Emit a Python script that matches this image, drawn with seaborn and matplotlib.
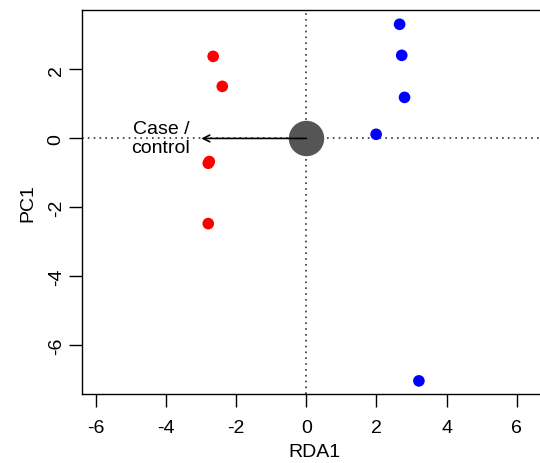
import seaborn as sns
import matplotlib.pyplot as plt
import pandas as pd

sns.set_theme(style='white')
plt.rcParams['font.family'] = ['Liberation Sans', 'DejaVu Sans']
plt.rcParams['text.color'] = 'black'
plt.rcParams['axes.labelcolor'] = 'black'
plt.rcParams['xtick.color'] = 'black'
plt.rcParams['ytick.color'] = 'black'
plt.rcParams['axes.unicode_minus'] = False

rda1_case = [-2.66, -2.40, -2.77, -2.80, -2.80]
pc1_case = [2.38, 1.51, -0.67, -0.72, -2.47]
rda1_ctrl = [2.66, 2.72, 2.80, 1.99, 3.21]
pc1_ctrl = [3.31, 2.41, 1.19, 0.12, -7.03]
arrow_end = -3.0
arrow_label = 'Case /\ncontrol'

df = pd.DataFrame({
    'RDA1': rda1_case + rda1_ctrl,
    'PC1': pc1_case + pc1_ctrl,
    'group': ['case'] * len(rda1_case) + ['control'] * len(rda1_ctrl),
})

fig = plt.figure(figsize=(5.4, 4.64), dpi=100)
ax = fig.add_axes([0.152, 0.148, 0.86, 0.828])

ax.axvline(0, color='#333333', ls=(0, (1, 2.5)), lw=1.2, zorder=1)
ax.axhline(0, color='#333333', ls=(0, (1, 2.5)), lw=1.2, zorder=1)

sns.scatterplot(data=df, x='RDA1', y='PC1', hue='group',
                palette={'case': '#ff0000', 'control': '#0000ff'},
                s=70, edgecolor='none', legend=False, ax=ax, zorder=3)
ax.scatter([0], [0], s=600, color='#555555', zorder=2)
ax.annotate('', xy=(arrow_end, 0), xytext=(0, 0),
            arrowprops=dict(arrowstyle='->', color='black', lw=1.2, shrinkA=0, shrinkB=0))
ax.text(arrow_end - 1.15, 0, arrow_label, ha='center', va='center',
        fontsize=14, linespacing=1.15)

ax.set_xlim(-6.4, 6.85)
ax.set_ylim(-7.42, 3.72)
ax.set_xticks([-6, -4, -2, 0, 2, 4, 6])
ax.set_yticks([2, 0, -2, -4, -6])
ax.set_yticklabels(['2', '0', '-2', '-4', '-6'], rotation=90, va='center')
ax.set_xlabel('RDA1', fontsize=14, labelpad=5.5)
ax.set_ylabel('PC1', fontsize=14, labelpad=8)
ax.tick_params(axis='both', labelsize=14, length=9.5, width=1,
               direction='out', left=True, bottom=True)
ax.tick_params(axis='x', pad=8)
ax.tick_params(axis='y', pad=3)
for sp in ax.spines.values():
    sp.set_color('black')
    sp.set_linewidth(1)

fig.savefig('out.png', dpi=100)
